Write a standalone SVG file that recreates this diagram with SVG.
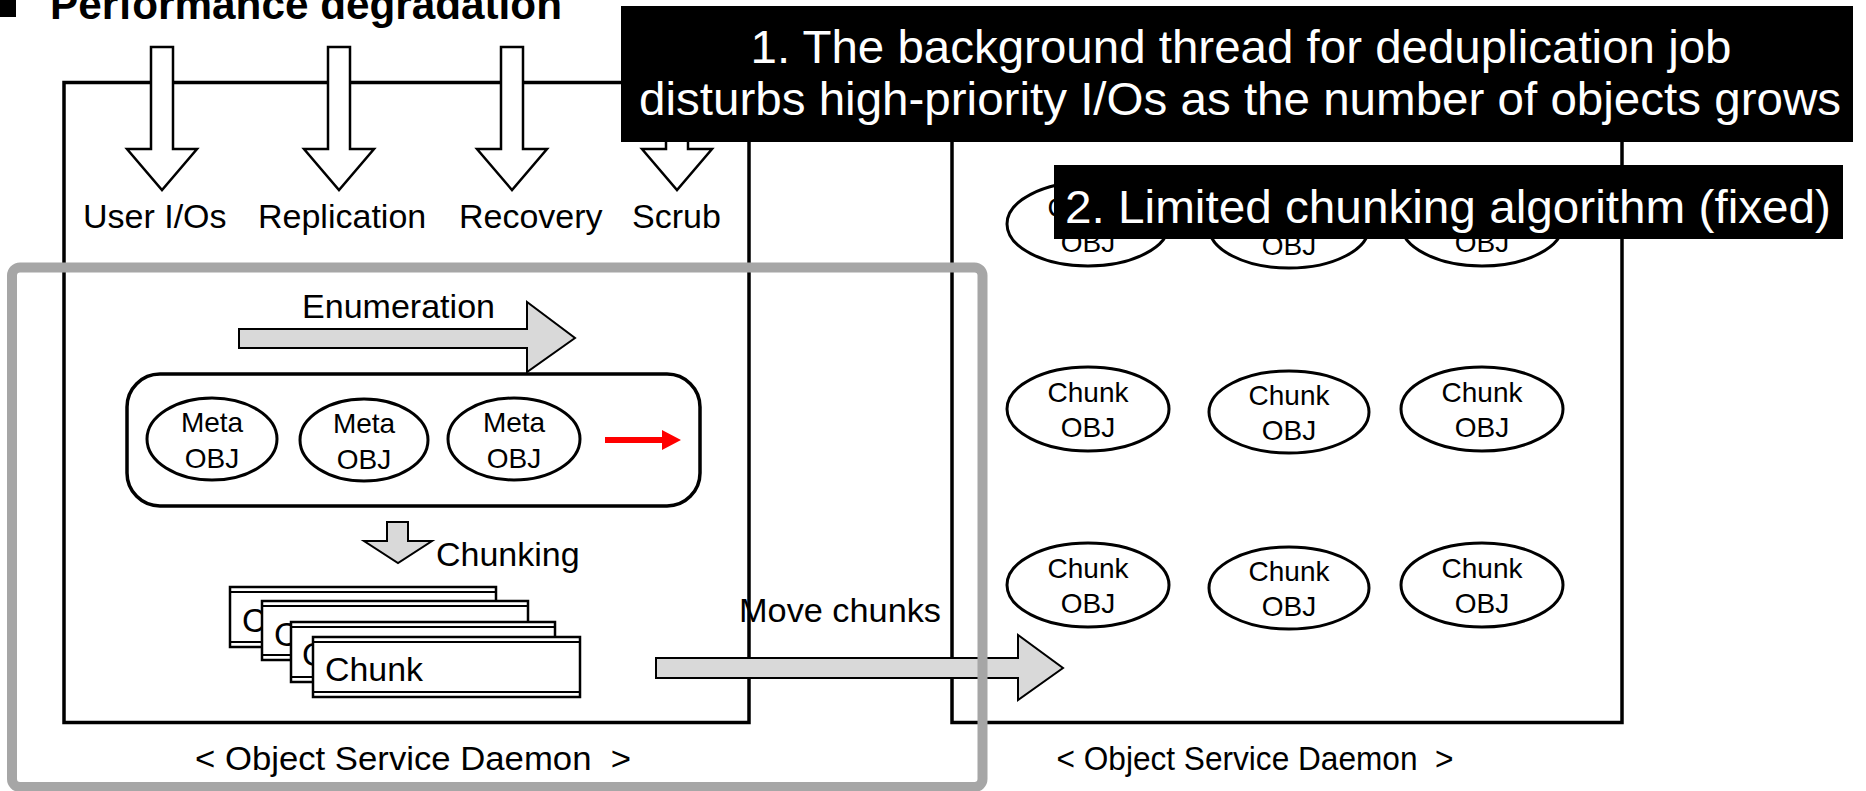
<svg xmlns="http://www.w3.org/2000/svg" width="1866" height="791" viewBox="0 0 1866 791">
<style>
text { font-family: "Liberation Sans", Arial, sans-serif; fill: #000; }
.lbl { font-size: 34px; }
.obj { font-size: 28px; text-anchor: middle; }
.box { fill: none; stroke: #000; stroke-width: 3.5; }
.ell { fill: #fff; stroke: #000; stroke-width: 3; }
.io { fill: #fff; stroke: #000; stroke-width: 2.5; }
.blk { fill: #d9d9d9; stroke: #000; stroke-width: 2; }
.chunk rect { fill: #fff; stroke: #000; stroke-width: 2.5; }
.chunk line { stroke: #000; stroke-width: 2; }
.chunk text { font-size: 33px; }
.note { fill: #000; }
.notetext { fill: #fff; font-size: 47px; text-anchor: middle; }
</style>
<rect x="0" y="0" width="1866" height="791" fill="#fff"/>

<g id="title">
  <rect x="0" y="0" width="16" height="17" fill="#000"/>
  <text x="50" y="19" font-size="42" font-weight="bold" textLength="512" lengthAdjust="spacingAndGlyphs">Performance degradation</text>
</g>

<g id="daemon-left">
  <rect class="box" x="64" y="82.5" width="685" height="640"/>
  <text class="lbl" x="413" y="770" text-anchor="middle" textLength="436" lengthAdjust="spacingAndGlyphs" xml:space="preserve">&lt; Object Service Daemon  &gt;</text>
</g>
<g id="daemon-right">
  <rect class="box" x="952" y="82.5" width="670" height="640"/>
  <text class="lbl" x="1255" y="770" text-anchor="middle" textLength="397" lengthAdjust="spacingAndGlyphs" xml:space="preserve">&lt; Object Service Daemon  &gt;</text>
</g>

<g id="connectors">
  <polygon class="io" points="151,47 173,47 173,149 197,149 162,190 127,149 151,149"/>
  <polygon class="io" points="328,47 350,47 350,149 374,149 339,190 304,149 328,149"/>
  <polygon class="io" points="501,47 523,47 523,149 547,149 512,190 477,149 501,149"/>
  <polygon class="io" points="666,47 688,47 688,149 712,149 677,190 642,149 666,149"/>
  <polygon class="blk" points="239,329 527,329 527,302 575,338 527,372 527,348 239,348"/>
  <polygon points="605,437 662,437 662,430 681,440 662,450 662,443 605,443" fill="#ff0000"/>
  <polygon class="blk" points="387,522 408,522 408,541 432,541 398,563 364,541 387,541"/>
  <polygon class="blk" points="656,658 1018,658 1018,635 1063,668 1018,700 1018,678 656,678"/>
</g>

<g id="io-labels">
  <text class="lbl" x="83" y="228">User I/Os</text>
  <text class="lbl" x="258" y="228">Replication</text>
  <text class="lbl" x="459" y="228">Recovery</text>
  <text class="lbl" x="632" y="228">Scrub</text>
</g>

<g id="enumeration-label">
  <text class="lbl" x="302" y="318" textLength="193" lengthAdjust="spacingAndGlyphs">Enumeration</text>
</g>

<g id="meta-list">
  <rect x="127" y="374" width="573" height="132" rx="33" ry="33" fill="none" stroke="#000" stroke-width="3.5"/>
  <g id="meta1">
    <ellipse class="ell" cx="212" cy="439" rx="65" ry="41"/>
    <text class="obj" x="212" y="432">Meta</text>
    <text class="obj" x="212" y="468">OBJ</text>
  </g>
  <g id="meta2">
    <ellipse class="ell" cx="364" cy="440" rx="64" ry="41"/>
    <text class="obj" x="364" y="433">Meta</text>
    <text class="obj" x="364" y="469">OBJ</text>
  </g>
  <g id="meta3">
    <ellipse class="ell" cx="514" cy="439" rx="66" ry="41"/>
    <text class="obj" x="514" y="432">Meta</text>
    <text class="obj" x="514" y="468">OBJ</text>
  </g>
</g>

<g id="chunking-label">
  <text class="lbl" x="436" y="566">Chunking</text>
</g>

<g id="chunk-stack">
  <g class="chunk" id="chunk1">
    <rect x="230" y="587" width="266" height="60"/>
    <line x1="230" y1="592" x2="496" y2="592"/><line x1="230" y1="642" x2="496" y2="642"/>
    <text x="242" y="632">Chunk</text>
  </g>
  <g class="chunk" id="chunk2">
    <rect x="262" y="601" width="266" height="59"/>
    <line x1="262" y1="606" x2="528" y2="606"/><line x1="262" y1="655" x2="528" y2="655"/>
    <text x="274" y="646">Chunk</text>
  </g>
  <g class="chunk" id="chunk3">
    <rect x="291" y="622" width="264" height="60"/>
    <line x1="291" y1="627" x2="555" y2="627"/><line x1="291" y1="677" x2="555" y2="677"/>
    <text x="302" y="666">Chunk</text>
  </g>
  <g class="chunk" id="chunk4">
    <rect x="313" y="637" width="267" height="60"/>
    <line x1="313" y1="642" x2="580" y2="642"/><line x1="313" y1="692" x2="580" y2="692"/>
    <text x="325" y="681" textLength="98" lengthAdjust="spacingAndGlyphs">Chunk</text>
  </g>
</g>

<g id="move-label">
  <text class="lbl" x="739" y="622" textLength="202" lengthAdjust="spacingAndGlyphs">Move chunks</text>
</g>

<g id="chunk-objs">
  <g id="c11"><ellipse class="ell" cx="1088" cy="224" rx="81" ry="42"/><text class="obj" x="1088" y="217">Chunk</text><text class="obj" x="1088" y="252">OBJ</text></g>
  <g id="c12"><ellipse class="ell" cx="1289" cy="227" rx="80" ry="41"/><text class="obj" x="1289" y="220">Chunk</text><text class="obj" x="1289" y="255">OBJ</text></g>
  <g id="c13"><ellipse class="ell" cx="1482" cy="224" rx="81" ry="42"/><text class="obj" x="1482" y="217">Chunk</text><text class="obj" x="1482" y="252">OBJ</text></g>
  <g id="c21"><ellipse class="ell" cx="1088" cy="409" rx="81" ry="42"/><text class="obj" x="1088" y="402">Chunk</text><text class="obj" x="1088" y="437">OBJ</text></g>
  <g id="c22"><ellipse class="ell" cx="1289" cy="412" rx="80" ry="41"/><text class="obj" x="1289" y="405">Chunk</text><text class="obj" x="1289" y="440">OBJ</text></g>
  <g id="c23"><ellipse class="ell" cx="1482" cy="409" rx="81" ry="42"/><text class="obj" x="1482" y="402">Chunk</text><text class="obj" x="1482" y="437">OBJ</text></g>
  <g id="c31"><ellipse class="ell" cx="1088" cy="585" rx="81" ry="42"/><text class="obj" x="1088" y="578">Chunk</text><text class="obj" x="1088" y="613">OBJ</text></g>
  <g id="c32"><ellipse class="ell" cx="1289" cy="588" rx="80" ry="41"/><text class="obj" x="1289" y="581">Chunk</text><text class="obj" x="1289" y="616">OBJ</text></g>
  <g id="c33"><ellipse class="ell" cx="1482" cy="585" rx="81" ry="42"/><text class="obj" x="1482" y="578">Chunk</text><text class="obj" x="1482" y="613">OBJ</text></g>
</g>

<g id="highlight">
  <rect x="12" y="267.5" width="970.5" height="519.5" rx="8" ry="8" fill="none" stroke="#a6a6a6" stroke-width="10"/>
</g>

<g id="note1">
  <rect class="note" x="621" y="6" width="1232" height="136"/>
  <text class="notetext" x="1241" y="63" textLength="981" lengthAdjust="spacingAndGlyphs">1. The background thread for deduplication job</text>
  <text class="notetext" x="1240" y="115" textLength="1202" lengthAdjust="spacingAndGlyphs">disturbs high-priority I/Os as the number of objects grows</text>
</g>
<g id="note2">
  <rect class="note" x="1054" y="165" width="789" height="74"/>
  <text class="notetext" x="1448" y="223" textLength="766" lengthAdjust="spacingAndGlyphs">2. Limited chunking algorithm (fixed)</text>
</g>
</svg>
